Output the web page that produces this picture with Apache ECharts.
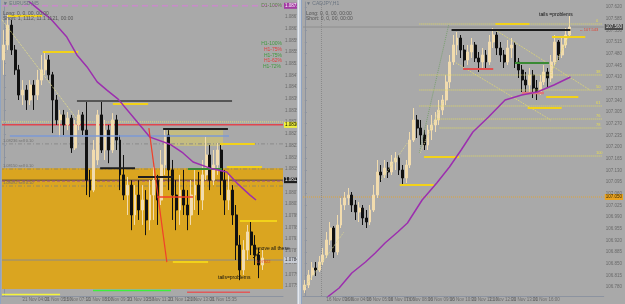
<!DOCTYPE html>
<html><head><meta charset="utf-8">
<script src="https://cdn.jsdelivr.net/npm/echarts@6/dist/echarts.min.js"></script>
<style>html,body{margin:0;padding:0;background:#a9a9a9}#c{width:625px;height:304px}</style>
</head><body><div id="c"></div>
<script>
// ---------- LEFT PANEL DATA (M5) ----------
const leftCandles = [ // [open, close, low, high]
[1.08523,1.08574,1.08472,1.08625],[1.08574,1.08642,1.08557,1.08677],[1.08642,1.08557,1.08540,1.08660],
[1.08557,1.08489,1.08472,1.08574],[1.08489,1.08403,1.08386,1.08506],[1.08403,1.08420,1.08369,1.08454],
[1.08420,1.08386,1.08352,1.08437],[1.08386,1.08437,1.08369,1.08454],[1.08437,1.08403,1.08352,1.08454],
[1.08403,1.08454,1.08386,1.08489],[1.08454,1.08489,1.08437,1.08540],[1.08489,1.08523,1.08472,1.08550],
[1.08523,1.08472,1.08454,1.08540],[1.08472,1.08386,1.08273,1.08482],[1.08386,1.08318,1.08301,1.08403],
[1.08318,1.08335,1.08260,1.08352],[1.08335,1.08301,1.08266,1.08352],[1.08301,1.08324,1.08283,1.08345],
[1.08324,1.08222,1.08205,1.08335],[1.08222,1.08301,1.08215,1.08318],[1.08301,1.08335,1.08283,1.08352],
[1.08335,1.08283,1.08266,1.08345],[1.08283,1.08112,1.08061,1.08386],[1.08112,1.08078,1.08054,1.08147],
[1.08078,1.08215,1.08071,1.08249],[1.08181,1.08335,1.08164,1.08352],[1.08335,1.08215,1.08205,1.08386],
[1.08215,1.08283,1.08181,1.08318],[1.08283,1.08215,1.08170,1.08301],[1.08215,1.08318,1.08205,1.08341],
[1.08318,1.08249,1.08215,1.08335],[1.08249,1.08130,1.08078,1.08266],[1.08130,1.08061,1.08044,1.08198],
[1.08061,1.08095,1.07993,1.08123],[1.08095,1.07993,1.07941,1.08112],[1.07993,1.08061,1.07959,1.08095],
[1.08061,1.08010,1.07976,1.08112],[1.08010,1.08044,1.07959,1.08095],[1.08044,1.07976,1.07924,1.08078],
[1.07976,1.08061,1.07941,1.08112],[1.08061,1.08112,1.07976,1.08157],[1.08112,1.08044,1.07959,1.08130],
[1.08044,1.08164,1.08027,1.08215],[1.08164,1.08266,1.08130,1.08290],[1.08266,1.08147,1.08078,1.08283],
[1.08147,1.08061,1.07976,1.08181],[1.08061,1.08010,1.07941,1.08112],[1.08010,1.08078,1.07959,1.08130],
[1.08078,1.08027,1.07993,1.08147],[1.08027,1.07993,1.07941,1.08078],[1.07993,1.08061,1.07959,1.08112],
[1.08061,1.08095,1.08010,1.08147],[1.08095,1.08044,1.07993,1.08140],[1.08044,1.08130,1.08010,1.08181],
[1.08130,1.08198,1.08112,1.08260],[1.08198,1.08112,1.08078,1.08232],[1.08112,1.08164,1.08095,1.08215],
[1.08164,1.08215,1.08130,1.08239],[1.08215,1.08112,1.08061,1.08232],[1.08112,1.08044,1.07993,1.08147],
[1.08044,1.08078,1.08010,1.08130],[1.08078,1.07993,1.07959,1.08095],[1.07993,1.07890,1.07839,1.08027],
[1.07890,1.07805,1.07770,1.07924],[1.07805,1.07873,1.07788,1.07907],[1.07873,1.07935,1.07839,1.07959],
[1.07935,1.07890,1.07856,1.07969],[1.07890,1.07856,1.07822,1.07924],[1.07856,1.07822,1.07777,1.07880],
[1.07822,1.07846,1.07805,1.07873]
];
const leftMA = [[6.2,1.08728],[10.4,1.08684],[12.3,1.08666],[16.8,1.08601],[19.5,1.08540],[22.2,1.08499],
[24.9,1.08448],[27.5,1.08420],[30.5,1.08389],[34.5,1.08328],[39,1.08259],[44.3,1.08235],[47.8,1.08205],
[50.5,1.08174],[55,1.08153],[59.5,1.08140],[62.2,1.08102],[65.7,1.08061],[67.3,1.08044]];
const leftPriceTicks = [1.0867,1.0863,1.0859,1.0855,1.0851,1.0847,1.0843,1.0839,1.0835,1.0831,1.0827,1.0823,
1.0819,1.0815,1.0811,1.0807,1.0803,1.0799,1.0795,1.0791,1.0787,1.0783,1.0779,1.0775];
const leftTimePos = [0,5,11,16,22,27,33,38,44,49,55,61];
const leftTimeLabels = ["21 Nov 2023","21 Nov 04:00","21 Nov 05:50","21 Nov 07:10","21 Nov 08:00","21 Nov 09:30",
"21 Nov 10:50","21 Nov 11:20","21 Nov 12:00","21 Nov 13:00","21 Nov 15:35","21 Nov 17:45"];
const leftZone = [1.07740, 1.08153];
const leftBox = [43.5, 58.5, 1.08229, 1.08283];
// [fromBar, toBar, price]
const leftYellowSegs = [[1.1,10.2,1.08673],[10.4,19.8,1.08550],[29.1,38.5,1.08372],[57.7,67,1.08236],
[59.5,68.9,1.08157],[63,72.9,1.07972],[45.1,54.5,1.07832]];
const leftBlackSegs = [[25.7,35,1.08153],[35.8,45.1,1.08123],[42.5,59.8,1.08287]];
const leftGraySegs = [[19.5,60.9,1.08383]];
const leftGreenSegs = [[49.1,58.2,1.08150]];
const leftBlueSegs = [[1.6,60.1,1.08263]];
const leftRedSegs = [[40.9,50.5,1.08054]];
const leftRedDiag = [[38.7,1.08290],[43.5,1.07832]];
const leftTrend = [[-0.5,1.08660],[20.3,1.08307]];
const leftStripSegs = [[-0.5,15,1.07721],[23.8,44.6,1.07735],[48.9,65.7,1.07729]];
const leftLevels = { d1: 1.08708, yDot: 1.08311, red: 1.08301, sell1: 1.08236, sell2: 1.08150,
  bid: 1.08112, purple: 1.08109, sell3: 1.08092, low: 1.07839 };
const leftSellTexts = ["1.08236 sell 0.10", "1.08150 sell 0.10", "1.08092 sell 0.10"];

// ---------- RIGHT PANEL DATA ----------
const rightCandles = [
[106.771,106.786,106.762,106.801],[106.786,106.816,106.777,106.831],[106.816,106.837,106.801,106.855],
[106.837,106.831,106.813,106.855],[106.831,106.855,106.825,106.873],[106.855,106.876,106.846,106.897],
[106.876,106.921,106.867,106.945],[106.921,106.957,106.906,106.975],[106.957,106.885,106.867,106.963],
[106.885,106.966,106.876,106.996],[106.966,107.026,106.957,107.047],[107.026,107.047,107.011,107.065],
[107.047,107.056,107.026,107.077],[107.056,107.026,107.005,107.065],[107.026,107.005,106.981,107.041],
[107.005,107.017,106.975,107.035],[107.017,106.987,106.966,107.026],[106.987,106.975,106.957,107.011],
[106.975,107.011,106.966,107.026],[107.011,107.056,107.005,107.086],[107.056,107.125,107.047,107.161],
[107.125,107.116,107.095,107.146],[107.116,107.137,107.107,107.161],[107.137,107.125,107.107,107.155],
[107.125,107.155,107.116,107.176],[107.155,107.167,107.131,107.185],[107.167,107.131,107.116,107.176],
[107.131,107.107,107.086,107.146],[107.107,107.146,107.092,107.161],[107.146,107.221,107.137,107.245],
[107.221,107.281,107.215,107.317],[107.281,107.257,107.227,107.296],[107.257,107.236,107.206,107.281],
[107.236,107.206,107.191,107.251],[107.206,107.251,107.191,107.266],[107.251,107.266,107.221,107.296],
[107.266,107.281,107.245,107.305],[107.281,107.311,107.266,107.341],[107.311,107.341,107.296,107.356],
[107.341,107.395,107.326,107.416],[107.395,107.455,107.377,107.476],[107.455,107.506,107.446,107.536],
[107.506,107.527,107.476,107.545],[107.527,107.491,107.467,107.536],[107.491,107.461,107.440,107.506],
[107.461,107.485,107.446,107.506],[107.485,107.506,107.467,107.527],[107.506,107.467,107.455,107.515],
[107.467,107.455,107.425,107.485],[107.455,107.476,107.437,107.497],[107.476,107.455,107.431,107.491],
[107.455,107.515,107.446,107.536],[107.515,107.536,107.497,107.557],[107.536,107.497,107.476,107.545],
[107.497,107.476,107.455,107.515],[107.476,107.455,107.437,107.491],[107.455,107.497,107.446,107.521],
[107.497,107.506,107.467,107.527],[107.506,107.455,107.437,107.515],[107.455,107.431,107.407,107.467],
[107.431,107.401,107.365,107.446],[107.401,107.386,107.356,107.425],[107.386,107.416,107.365,107.437],
[107.416,107.377,107.347,107.431],[107.377,107.365,107.341,107.401],[107.365,107.395,107.356,107.416],
[107.395,107.425,107.386,107.446],[107.425,107.407,107.377,107.437],[107.407,107.455,107.395,107.476],
[107.455,107.515,107.446,107.536],[107.515,107.476,107.461,107.521],[107.476,107.506,107.467,107.527],
[107.506,107.536,107.497,107.557],[107.536,107.560,107.527,107.593]
];
const rightMA = [[6.24,106.750],[9.47,106.777],[12.97,106.822],[16.75,106.855],[19.44,106.882],[22.14,106.912],
[25.64,106.945],[28.33,106.972],[32.38,107.041],[36.42,107.092],[39.92,107.140],[43.15,107.191],[46.39,107.245],
[50.7,107.290],[55.28,107.341],[59.86,107.356],[64.17,107.365],[68.75,107.386],[73.33,107.410]];
const rightPriceTicks = [107.620,107.585,107.550,107.515,107.480,107.445,107.410,107.375,107.340,107.305,107.270,
107.235,107.200,107.165,107.130,107.095,107.060,107.025,106.990,106.955,106.920,106.885,106.850,106.815,106.780];
const rightTimePos = [0,6,11,17,23,28,34,40,46,51,57,63,68];
const rightTimeLabels = ["16 Nov 2023","16 Nov 03:00","16 Nov 04:00","16 Nov 05:00","16 Nov 07:00","16 Nov 08:00",
"16 Nov 09:00","16 Nov 10:00","21 Nov 11:10","21 Nov 12:00","21 Nov 13:00","21 Nov 16:00","21 Nov 17:00"];
const rightYellowSegs = [[52.6,62,107.569],[68.2,77.4,107.530],[66.6,75.5,107.350],[61.5,70.9,107.317],
[32.9,42.6,107.170],[26.2,35.6,107.086]];
const rightBlackSegs = [[40.5,73.3,107.551]];
const rightRedSegs = [[43.7,52.0,107.434]];
const rightGreenSegs = [[58,67.4,107.452]];
const rightPinkSegs = [[59.9,66,107.362]];
const rightFibSegs = [[31.6,82,107.569],[31.6,82,107.416],[31.6,82,107.371],[31.6,82,107.323],
[36.4,82,107.284],[37.2,82,107.257],[43.2,82,107.173]];
const rightFibLabels = ["0","38","50","61","76","78","100"];
const rightDiagLines = [[[41.8,107.452],[67.9,107.281]],[[52.6,107.551],[78.7,107.371]],[[67.9,107.422],[73.3,107.542]]];
const rightGreenDiag = [[31.6,107.182],[39.7,107.566]];
const rightTrail = [[[0,106.780],[10.8,106.945]],[[21.1,107.101],[28.3,107.212]],[[31.8,107.182],[38.3,107.341]]];
const rightLevels = { bid: 107.560, orange: 107.050 };
const rightDaySep = 4.6;

// ---------- BUILD ----------
const FONT = 'Liberation Sans';
const LX = [-0.5, 74.5], RX = [-0.5, 82.5];
const LY = [1.07716, 1.08721], RY = [106.753, 107.635];
function seg(list, xi, color, width, type, z) {
  return list.map(s => ({ type:'line', xAxisIndex:xi, yAxisIndex:xi, silent:true, symbol:'none', z:z||4,
    data: [[s[0], s[2]], [s[1], s[2]]], lineStyle:{color, width, type:type||'solid'} }));
}
function poly(pts, xi, color, width, type, z) {
  return { type:'line', xAxisIndex:xi, yAxisIndex:xi, silent:true, symbol:'none', z:z||4,
    data: pts, lineStyle:{color, width, type:type||'solid'} };
}
// full-width level; optional axis price box (bg, fg) at right end, or text at left start
function level(xi, y, color, width, type, opt) {
  opt = opt || {};
  const xr = xi === 0 ? LX : RX;
  const s = { type:'line', xAxisIndex:xi, yAxisIndex:xi, silent:true, symbol:'none', z:opt.z||2,
    data:[[xr[0], y], [xr[1], y]], lineStyle:{color, width, type} };
  if (opt.box) {
    s.endLabel = { show:true, formatter:()=>y.toFixed(xi===0?4:3), distance:1, fontSize:4.5, fontFamily:FONT,
      color:opt.box[1], backgroundColor:opt.box[0], padding:[1,1,0,1] };
  } else if (opt.text) {
    s.data = [[xr[1], y], [xr[0], y]];
    s.endLabel = { show:true, formatter:opt.text, distance:1, offset:[0,-3], fontSize:4, fontFamily:FONT, color:'#707070' };
  }
  return s;
}

const candleStyle = { color:'#f2dcae', color0:'#111111', borderColor:'#f2dcae', borderColor0:'#111111', borderWidth:1 };

const series = [
  { type:'line', xAxisIndex:0, yAxisIndex:0, data:[], z:0, silent:true,
    markArea:{ silent:true, data:[
      [{yAxis:leftZone[1], itemStyle:{color:'#daa520', opacity:1}}, {yAxis:leftZone[0]}],
      [{xAxis:leftBox[0], yAxis:leftBox[3], itemStyle:{color:'#c9c07a', opacity:0.85}}, {xAxis:leftBox[1], yAxis:leftBox[2]}]
    ]}},
  level(0, leftLevels.d1, '#c98ac9', 1.5, [6,4], {box:['#a33aa3','#ffffff']}),
  level(0, leftLevels.yDot, '#e4dc70', 1, 'dotted'),
  level(0, leftLevels.red, '#e0464e', 1.5, 'solid', {box:['#f0f03c','#000000']}),
  level(0, leftLevels.sell1, '#8a8a8a', 1, [4,2,1,2], {text:leftSellTexts[0]}),
  level(0, leftLevels.sell2, '#9a8a5a', 1, [4,2,1,2], {text:leftSellTexts[1]}),
  level(0, leftLevels.bid, '#4a4030', 1, 'solid', {box:['#1c1c1c','#ffffff']}),
  level(0, leftLevels.purple, '#9a4a9a', 1, [3,2]),
  level(0, leftLevels.sell3, '#9a8a5a', 1, [4,2,1,2], {text:leftSellTexts[2]}),
  level(0, leftLevels.low, '#8c8c8c', 1, 'solid', {box:['#c6cad2','#333333']}),
  { type:'candlestick', xAxisIndex:0, yAxisIndex:0, z:3, barWidth:2.4, silent:true,
    data: leftCandles.map((d,i)=>[i].concat(d)), encode:{x:0, y:[1,2,3,4]}, itemStyle:candleStyle },
  poly(leftMA, 0, '#9c2fae', 1.5, 'solid', 5),
  poly(leftTrend, 0, '#e6e08a', 1, 'dotted', 4),
  poly(leftRedDiag, 0, '#f0402a', 1.2, 'solid', 5),
  ...seg(leftBlueSegs, 0, '#7c9ad6', 1.5),
  ...seg(leftGraySegs, 0, '#555555', 2),
  ...seg(leftBlackSegs, 0, '#1e1e1e', 2),
  ...seg(leftGreenSegs, 0, '#3a8a34', 2),
  ...seg(leftRedSegs, 0, '#f0402a', 1.5),
  ...seg(leftYellowSegs, 0, '#f2d21a', 2),
  ...seg([leftStripSegs[0]], 0, '#f5f53a', 1.5),
  ...seg([leftStripSegs[1]], 0, '#3cf03c', 1.5),
  ...seg([leftStripSegs[2]], 0, '#e05a5a', 1.5),

  // right panel
  level(1, rightLevels.bid, '#8e8e8e', 1, 'solid', {box:['#4c4c4c','#e6e6e6']}),
  level(1, rightLevels.orange, '#e0a43a', 1, 'dotted', {box:['#e8a222','#3a2a00']}),
  poly([[rightDaySep, RY[0]], [rightDaySep, RY[1]]], 1, '#8a8a8a', 1, 'dotted', 2),
  { type:'candlestick', xAxisIndex:1, yAxisIndex:1, z:3, barWidth:2.4, silent:true,
    data: rightCandles.map((d,i)=>[i].concat(d)), encode:{x:0, y:[1,2,3,4]}, itemStyle:candleStyle },
  poly(rightMA, 1, '#9c2fae', 1.5, 'solid', 5),
  poly(rightGreenDiag, 1, '#7aa070', 1, 'dotted', 4),
  ...rightDiagLines.map(p => poly(p, 1, '#e2da72', 1, 'dotted', 4)),
  ...rightTrail.map(p => poly(p, 1, '#d8d490', 1, 'dotted', 4)),
  ...rightFibSegs.map((s,k) => ({ type:'line', xAxisIndex:1, yAxisIndex:1, silent:true, symbol:'none', z:4,
      data:[[s[0],s[2]],[s[1],s[2]]], lineStyle:{color:'#e2da60', width:1, type:'dotted'},
      endLabel:{show:true, formatter:rightFibLabels[k], fontSize:4, color:'#e6dc50', distance:-6, fontFamily:FONT, offset:[0,-3]} })),
  ...seg(rightBlackSegs, 1, '#1a1a1a', 2),
  ...seg(rightRedSegs, 1, '#e05050', 2),
  ...seg(rightGreenSegs, 1, '#3a8a34', 2),
  ...seg(rightPinkSegs, 1, '#e07878', 2.5),
  ...seg(rightYellowSegs, 1, '#f2d21a', 2)
];

const axisLineStyle = {color:'#8c93a0', width:1};
const option = {
  backgroundColor:'#a9a9a9',
  animation:false,
  grid:[{left:2, top:2, width:281, height:294}, {left:303, top:2, width:308, height:294}],
  xAxis:[
    { type:'value', gridIndex:0, min:LX[0], max:LX[1], splitLine:{show:false},
      axisLine:{show:true, lineStyle:axisLineStyle}, axisTick:{show:true, length:2, customValues:leftTimePos, lineStyle:axisLineStyle},
      axisLabel:{customValues:leftTimePos, formatter:v=>leftTimeLabels[leftTimePos.indexOf(v)], fontSize:4.5,
        color:'#6a6a6a', fontFamily:FONT, align:'left', margin:1} },
    { type:'value', gridIndex:1, min:RX[0], max:RX[1], splitLine:{show:false},
      axisLine:{show:true, lineStyle:axisLineStyle}, axisTick:{show:true, length:2, customValues:rightTimePos, lineStyle:axisLineStyle},
      axisLabel:{customValues:rightTimePos, formatter:v=>rightTimeLabels[rightTimePos.indexOf(v)], fontSize:4.5,
        color:'#6a6a6a', fontFamily:FONT, align:'left', margin:1} }
  ],
  yAxis:[
    { type:'value', gridIndex:0, position:'right', min:LY[0], max:LY[1], splitLine:{show:false},
      axisLine:{show:true, lineStyle:axisLineStyle}, axisTick:{show:true, length:2, customValues:leftPriceTicks, lineStyle:axisLineStyle},
      axisLabel:{customValues:leftPriceTicks, formatter:v=>v.toFixed(4), fontSize:4.5, color:'#6a6a6a', fontFamily:FONT, margin:2} },
    { type:'value', gridIndex:1, position:'right', min:RY[0], max:RY[1], splitLine:{show:false},
      axisLine:{show:true, lineStyle:axisLineStyle}, axisTick:{show:true, length:2, customValues:rightPriceTicks, lineStyle:axisLineStyle},
      axisLabel:{customValues:rightPriceTicks, formatter:v=>v.toFixed(3), fontSize:4.5, color:'#6a6a6a', fontFamily:FONT, margin:2} }
  ],
  series,
  graphic:[
    {type:'rect', shape:{x:297, y:0, width:5, height:304}, style:{fill:'#c4cbd4'}, z:100},
    {type:'rect', shape:{x:298, y:0, width:1, height:304}, style:{fill:'#e6e9ee'}, z:101},
    {type:'rect', shape:{x:301, y:0, width:1, height:304}, style:{fill:'#8fa3c2'}, z:101},
    {type:'rect', shape:{x:0, y:0, width:1, height:304}, style:{fill:'#8fa3c2'}, z:101},
    {type:'text', x:3, y:1, style:{text:'▼ EURUSD,M5', fill:'#6a7480', fontSize:5, fontFamily:FONT}, z:110},
    {type:'text', x:3, y:11, style:{text:'Long: 0, 0, 00, 00:00', fill:'#555', fontSize:5, fontFamily:FONT}, z:110},
    {type:'text', x:3, y:16, style:{text:'Short: 1, 1112, 11.1 1121, 00:00', fill:'#555', fontSize:5, fontFamily:FONT}, z:110},
    {type:'text', x:282, y:6, style:{text:'D1-100%', fill:'#5d7a4a', fontSize:5, fontFamily:FONT, align:'right', verticalAlign:'middle'}, z:110},
    {type:'text', x:282, y:44, style:{text:'H1-100%', fill:'#3f9a3f', fontSize:5, fontFamily:FONT, align:'right', verticalAlign:'middle'}, z:110},
    {type:'text', x:282, y:50, style:{text:'H1-75%', fill:'#e04040', fontSize:5, fontFamily:FONT, align:'right', verticalAlign:'middle'}, z:110},
    {type:'text', x:282, y:55.5, style:{text:'H1-75%', fill:'#3f9a3f', fontSize:5, fontFamily:FONT, align:'right', verticalAlign:'middle'}, z:110},
    {type:'text', x:282, y:61, style:{text:'H1-62%', fill:'#e04040', fontSize:5, fontFamily:FONT, align:'right', verticalAlign:'middle'}, z:110},
    {type:'text', x:281, y:66.5, style:{text:'H1-72%', fill:'#3f9a3f', fontSize:5, fontFamily:FONT, align:'right', verticalAlign:'middle'}, z:110},
    {type:'text', x:253, y:249, style:{text:'remove all these', fill:'#111', fontSize:5, fontFamily:FONT, verticalAlign:'middle'}, z:110},
    {type:'line', shape:{x1:253, y1:258, x2:260, y2:252}, style:{stroke:'#111', lineWidth:1}, z:110},
    {type:'text', x:256, y:262, style:{text:'1.07822', fill:'#e04030', fontSize:4, fontFamily:FONT, verticalAlign:'middle'}, z:110},
    {type:'text', x:218, y:278, style:{text:'tails=problems', fill:'#111', fontSize:5, fontFamily:FONT, verticalAlign:'middle'}, z:110},
    {type:'text', x:306, y:1, style:{text:'▼ CADJPY,H1', fill:'#6a7480', fontSize:5, fontFamily:FONT}, z:110},
    {type:'text', x:306, y:11, style:{text:'Long: 0, 0, 00, 00:00', fill:'#555', fontSize:5, fontFamily:FONT}, z:110},
    {type:'text', x:306, y:16, style:{text:'Short: 0, 0, 00, 00:00', fill:'#555', fontSize:5, fontFamily:FONT}, z:110},
    {type:'text', x:539, y:15, style:{text:'tails =problems', fill:'#111', fontSize:5, fontFamily:FONT, verticalAlign:'middle'}, z:110},
    {type:'text', x:580, y:30, style:{text:'-- 107.543', fill:'#e04030', fontSize:4, fontFamily:FONT, verticalAlign:'middle'}, z:110}
  ]
};
const chart = echarts.init(document.getElementById('c'), null, {renderer:'canvas'});
chart.setOption(option);
</script></body></html>
